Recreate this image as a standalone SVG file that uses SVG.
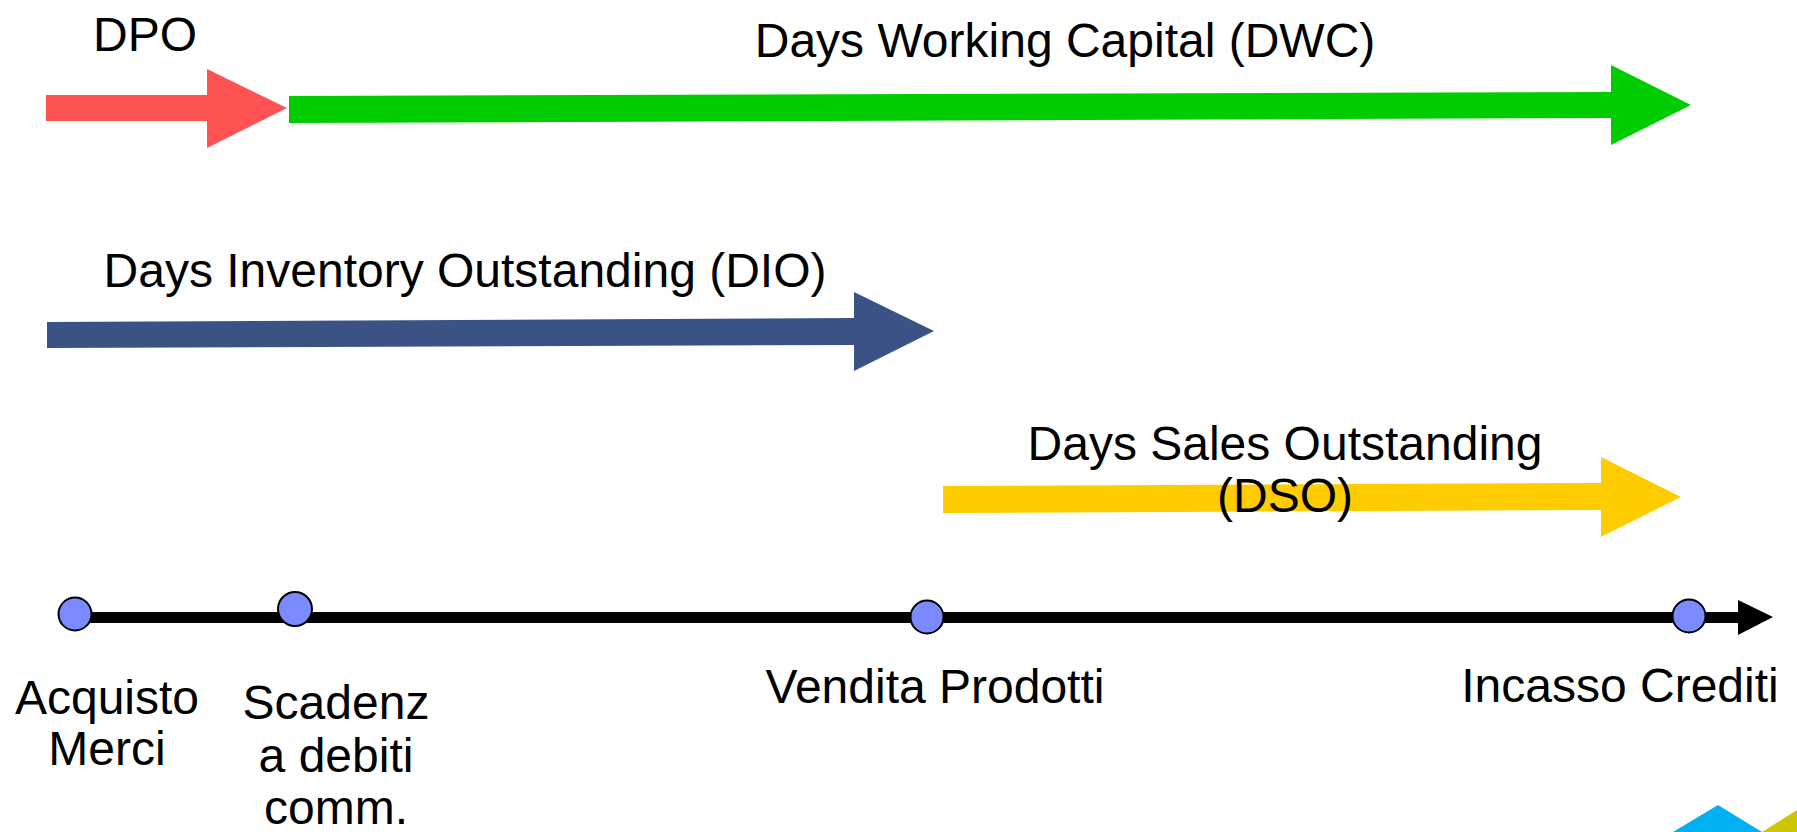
<svg xmlns="http://www.w3.org/2000/svg" width="1797" height="832" viewBox="0 0 1797 832">
<style>
text{font-family:"Liberation Sans",Arial,sans-serif;font-size:48px;fill:#000;text-anchor:middle}
.pt{fill:#7A8AFF;stroke:#000;stroke-width:2}
</style>
<rect width="1797" height="832" fill="#fff"/>
<g id="connectors">
<polygon id="dpo-arrow" fill="#FF5252" points="46,95 207,95 207,69 287,108 207,148 207,121 46,121"/>
<polygon id="dwc-arrow" fill="#00CC00" points="289,96 1611,92 1611,65 1691,105 1611,145 1611,118 289,123"/>
<polygon id="dio-arrow" fill="#3A5384" points="47,322 854,318 854,292 934,331 854,371 854,345 47,348"/>
<polygon id="dso-arrow" fill="#FFCC00" points="943,486 1601,483 1601,457 1681,497 1601,537 1601,510 943,513"/>
<rect id="timeline" x="75" y="612" width="1665" height="11" fill="#000"/>
<polygon id="timeline-head" fill="#000" points="1738,600 1773,617 1738,635"/>
</g>
<g id="labels">
<text x="145" y="51">DPO</text>
<text x="1065" y="57">Days Working Capital (DWC)</text>
<text x="465" y="287">Days Inventory Outstanding (DIO)</text>
<text x="1285" y="460">Days Sales Outstanding</text>
<text x="1285" y="512">(DSO)</text>
</g>
<g id="node-acquisto">
<circle class="pt" cx="75" cy="614" r="16.5"/>
<text x="107" y="714">Acquisto</text>
<text x="107" y="765">Merci</text>
</g>
<g id="node-scadenza">
<circle class="pt" cx="295" cy="609" r="17"/>
<text x="336" y="719">Scadenz</text>
<text x="336" y="772">a debiti</text>
<text x="336" y="824">comm.</text>
</g>
<g id="node-vendita">
<circle class="pt" cx="927" cy="617" r="16.5"/>
<text x="935" y="703">Vendita Prodotti</text>
</g>
<g id="node-incasso">
<circle class="pt" cx="1689" cy="616" r="16.5"/>
<text x="1620" y="702">Incasso Crediti</text>
</g>
<polygon fill="#00B0F0" points="1673,832 1718,805 1762,832"/>
<polygon fill="#CCC60A" points="1762,832 1797,810 1797,832"/>
</svg>
